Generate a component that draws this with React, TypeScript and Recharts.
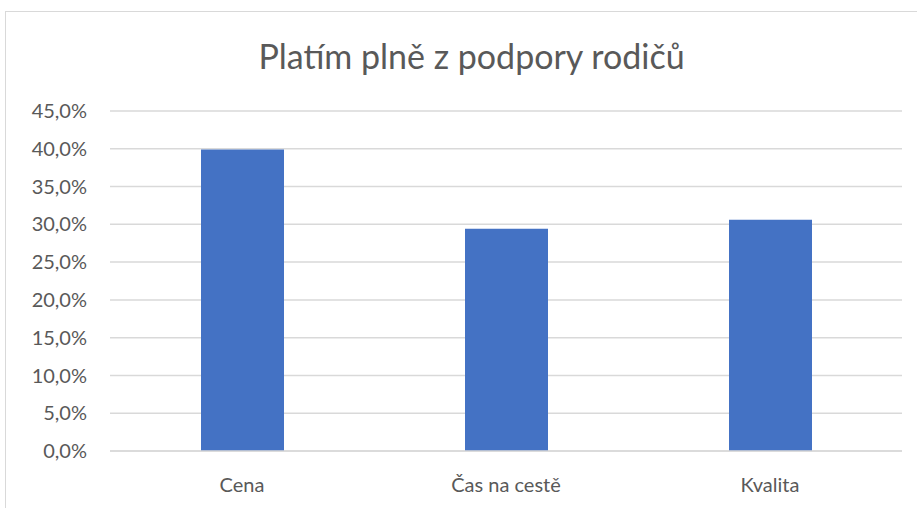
import React from 'react';
import { BarChart, Bar, XAxis, YAxis, CartesianGrid } from 'recharts';

const categories = ['Cena', 'Čas na cestě', 'Kvalita'];
const values = [0.399, 0.294, 0.306];
const yTicks = [0, 0.05, 0.1, 0.15, 0.2, 0.25, 0.3, 0.35, 0.4, 0.45];

const data = categories.map((name, i) => ({ name, value: values[i] }));

const formatPct = (v: number) => (v * 100).toFixed(1).replace('.', ',') + '%';

const font = 'Lato, "Open Sans", sans-serif';

export default function App() {
  return (
    <div style={{ position: 'absolute', left: 0, top: 0, width: 917, height: 508, overflow: 'hidden', background: '#fff' }}>
      <div
        style={{
          position: 'absolute',
          left: 5,
          top: 11,
          width: 1000,
          height: 600,
          border: '1.5px solid #d9d9d9',
          boxSizing: 'border-box',
        }}
      />
      <div
        style={{
          position: 'absolute',
          left: 0,
          top: 36,
          width: 943,
          textAlign: 'center',
          fontFamily: font,
          fontSize: 34,
          color: '#595959',
          lineHeight: '40px',
        }}
      >
        Platím plně z podpory rodičů
      </div>
      <div style={{ position: 'absolute', left: 0, top: 0 }}>
        <BarChart width={917} height={508} data={data} margin={{ top: 111, right: 15, left: 0, bottom: 27 }}>
          <CartesianGrid vertical={false} stroke="#d9d9d9" strokeWidth={1.5} />
          <XAxis
            dataKey="name"
            axisLine={{ stroke: '#d9d9d9', strokeWidth: 1.5 }}
            tickLine={false}
            height={30}
            tickMargin={21}
            tick={{ fill: '#595959', fontSize: 20, fontFamily: font }}
          />
          <YAxis
            width={110}
            domain={[0, 0.45]}
            ticks={yTicks}
            tickFormatter={formatPct}
            axisLine={false}
            tickLine={false}
            tickMargin={17}
            tick={{ fill: '#595959', fontSize: 20, fontFamily: font }}
          />
          <Bar dataKey="value" fill="#4472C4" barSize={83} isAnimationActive={false} />
        </BarChart>
      </div>
    </div>
  );
}
